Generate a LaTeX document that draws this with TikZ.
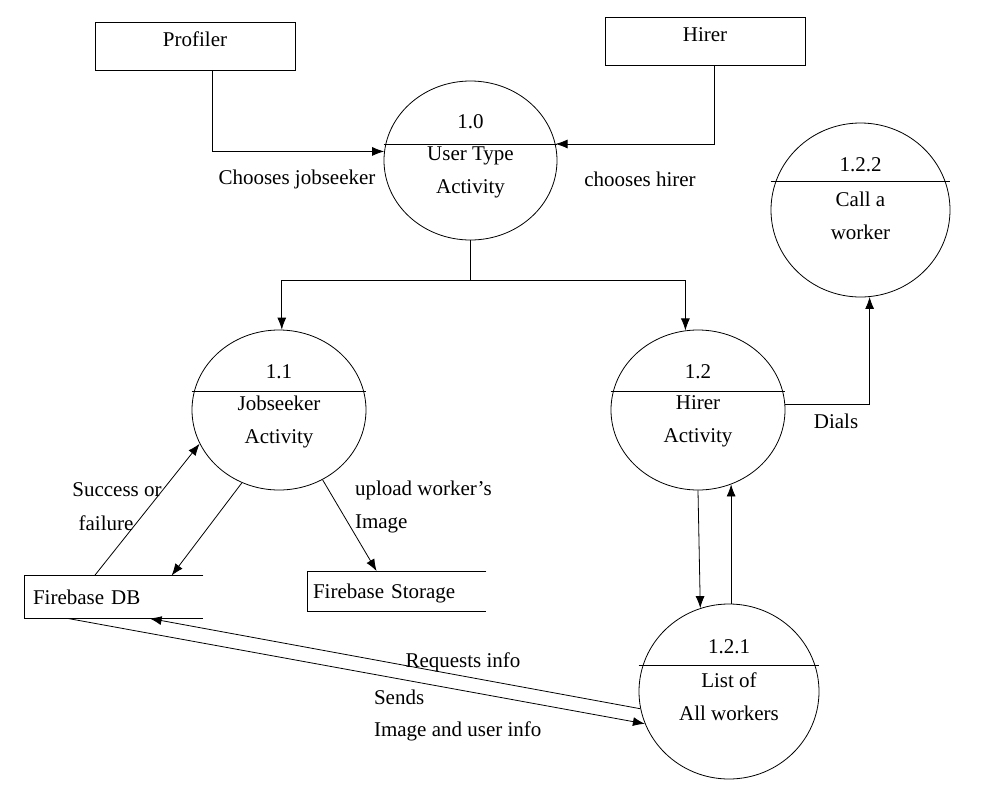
\documentclass[tikz,border=0pt]{standalone}
\usepackage{fontspec}
\setmainfont{Liberation Serif}
\usetikzlibrary{positioning,arrows.meta,shapes.geometric,calc}

\begin{document}
\begin{tikzpicture}[x=0.5pt, y=-0.5pt, font=\fontsize{10.5}{16.5}\selectfont,
    proc/.style={draw, ellipse, inner sep=0pt},
    ext/.style={draw, minimum width=100pt, minimum height=24pt, text height=7pt, text depth=7pt},
    store/.style={align=left, inner ysep=0pt},
    flow/.style={-{Latex[length=6pt,width=4.5pt]}}]
  \useasboundingbox (0,0) rectangle (987,788);
  \node[ext] (prof) at (195,46) {Profiler};
  \node[ext] (hirer) at (705,41) {Hirer};
  \node[proc, minimum width=86.5pt, minimum height=79.5pt] (p10) at (470.5,160.5) {};
  \node[proc, minimum width=87pt, minimum height=80pt] (p11) at (279,410) {};
  \node[proc, minimum width=87pt, minimum height=80pt] (p12) at (698,410) {};
  \node[proc, minimum width=89.5pt, minimum height=87pt] (p122) at (860.5,210) {};
  \node[proc, minimum width=90pt, minimum height=87.5pt] (p121) at (729,691.5) {};
  \foreach \n/\d in {p10/16.5, p11/19, p12/19, p122/29, p121/26}
    \draw ($(\n.west)+(0,-\d)$) -- ($(\n.east)+(0,-\d)$);
  \node (p10num) at ($(p10)+(0,-38.5)$) {1.0};
  \node[align=center] (p10txt) at ($(p10)+(0,11.5)$) {User Type\\Activity};
  \node (p11num) at ($(p11)+(0,-38)$) {1.1};
  \node[align=center] (p11txt) at ($(p11)+(0,11.5)$) {Jobseeker\\Activity};
  \node (p12num) at ($(p12)+(0,-38)$) {1.2};
  \node[align=center] (p12txt) at ($(p12)+(0,11.5)$) {Hirer\\Activity};
  \node (p122num) at ($(p122)+(0,-45)$) {1.2.2};
  \node[align=center] (p122txt) at ($(p122)+(0,5.5)$) {Call a\\worker};
  \node (p121num) at ($(p121)+(0,-45)$) {1.2.1};
  \node[align=center] (p121txt) at ($(p121)+(0,5.5)$) {List of\\All workers};
  \node[store, text width=81pt, inner xsep=4pt, minimum height=21pt] (db) at (114,597) {Firebase DB};
  \node[store, text width=84pt, inner xsep=2.5pt, minimum height=19.5pt, text depth=0pt] (fs) at (397,591) {Firebase Storage};
  \foreach \s in {db, fs}
    \draw (\s.north east) -- (\s.north west) -- (\s.south west) -- (\s.south east);
  \draw[flow] ($(prof.south)+(17,0)$) |- (p10.174);
  \draw[flow] ($(hirer.south)+(9,0)$) |- (p10.11);
  \coordinate (split) at ($(p10.south)+(0,40)$);
  \draw (p10.south) -- (split);
  \draw[flow] (split) -| (p11.88);
  \draw[flow] (split) -| (p12.99);
  \draw[flow] (p12.4) -| (p122.-84);
  \draw[flow] (p12.south) -- (p121.109);
  \draw[flow] (p12.294 |- p121.north) -- (p12.294);
  \draw[flow] (p11.243) -- ($(db.north west)+(147,0)$);
  \draw[flow] ($(db.north west)+(70,0)$) -- (p11.203);
  \draw[flow] (p11.302) -- ($(fs.north west)+(69,0)$);
  \draw[flow] (p121.191) -- ($(db.south west)+(125,0)$);
  \draw[flow] ($(db.south west)+(43,0)$) -- (p121.201);
  \node (lbljob) at (297,179) {Chooses jobseeker};
  \node (lblhir) at (640,179) {chooses hirer};
  \node (lbldial) at (836,421) {Dials};
  \node (lblsucc) at (117,490) {Success or};
  \node (lblfail) at (106,523) {failure};
  \node[anchor=west] (lblup) at (348,490) {upload worker’s};
  \node[anchor=west] (lblimg) at (348,524) {Image};
  \node (lblreq) at (463,662) {Requests info};
  \node[anchor=west] (lblsend) at (367,697) {Sends};
  \node[anchor=west] (lblinfo) at (367,731) {Image and user info};
\end{tikzpicture}
\end{document}
